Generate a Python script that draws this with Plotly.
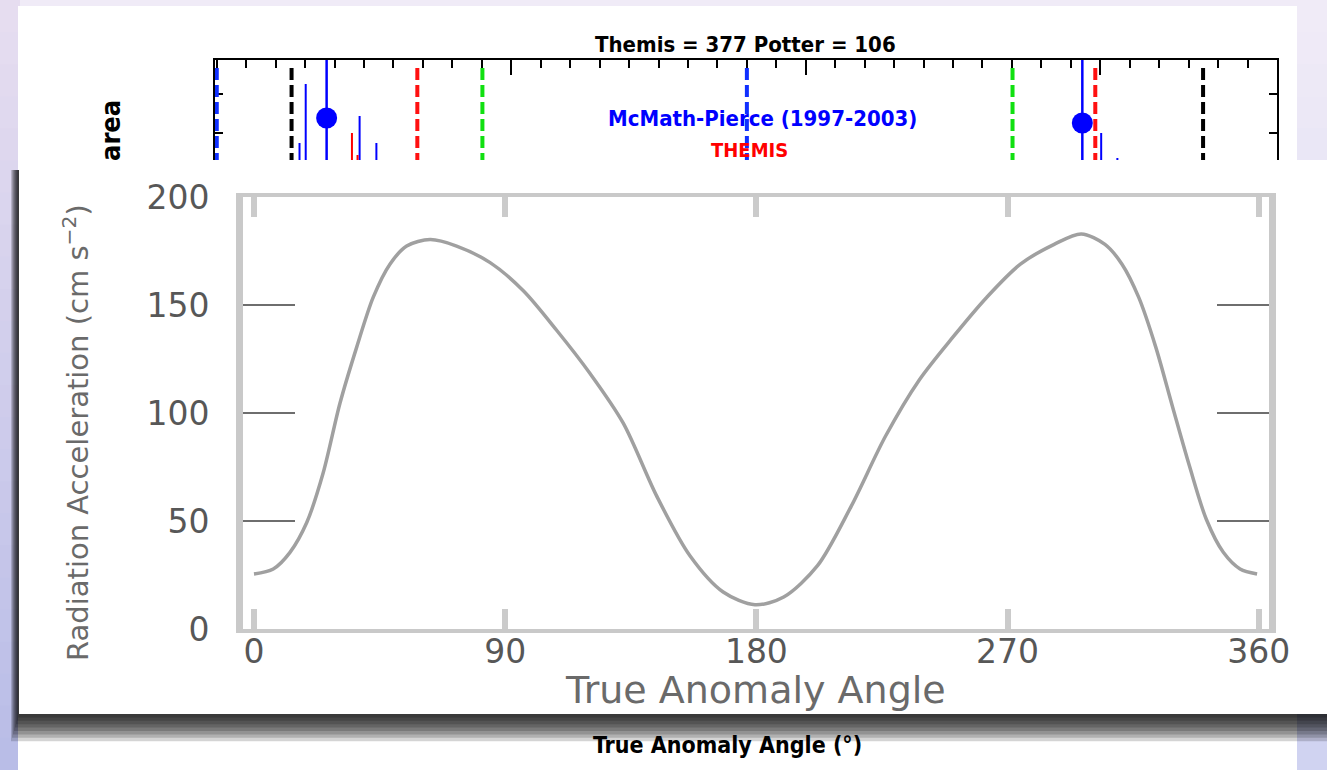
import plotly.graph_objects as go

W, H = 1327, 770

# ---------------- inner chart: radiation acceleration vs true anomaly ----------------
anomaly_deg = [0, 6.9, 12.9, 18.9, 24.8, 30.8, 36.8, 42.7, 48.7, 54.7, 63.1, 72.6,
               84.6, 96.5, 108.5, 120.4, 132.3, 144.3, 156.2, 168.1, 179.5, 189.8,
               201.9, 214.0, 226.2, 238.3, 250.4, 262.5, 274.6, 286.7, 296.4, 304.9,
               311.0, 317.0, 323.1, 329.1, 335.2, 341.2, 347.3, 353.3, 359.4]
radiation_accel = [25.5, 27.8, 35.5, 49.3, 72.3, 104.5, 130.5, 153.5, 168.9, 177.3,
                   180.3, 177.3, 169.6, 156.6, 138.2, 118.3, 95.3, 61.5, 33.9, 17.1,
                   11.2, 14.8, 29.3, 56.9, 89.1, 115.2, 135.1, 153.5, 168.9, 178.1,
                   182.9, 178.1, 168.9, 153.5, 130.5, 102.9, 75.3, 50.8, 35.5, 27.8, 25.5]
x_ticks = [0, 90, 180, 270, 360]
y_ticks = [0, 50, 100, 150, 200]
y_inner_ticks = [50, 100, 150]

# ---------------- background chart (partly hidden) ----------------
blue_dash_x = [0, 180]
black_dash_x = [25.4, 334.9]
red_dash_x = [68.1, 298.3]
green_dash_x = [90.2, 270.2]
dash_top = 92
blue_solid_x = [37.3, 293.9]
blue_dot_y = [42, 37]
blue_bar_x = [28.1, 30.2, 48.5, 54.2, 300.3, 305.8]
blue_bar_top = [17, 76, 44, 17, 27, 2]
red_bar_x = [45.9, 47.8]
red_bar_top = [27, 5]
bg_y_ticks = [27, 66]


def vlines(xs, tops, bottom=-5):
    xx, yy = [], []
    for x, t in zip(xs, tops):
        xx += [x, x, None]
        yy += [bottom, t, None]
    return xx, yy


def px_x(p):
    return p / W


def px_y(p):
    return 1 - p / H


fig = go.Figure()

fig.add_trace(go.Scatter(
    x=anomaly_deg, y=radiation_accel, mode="lines",
    line=dict(color="#a0a0a0", width=3.5, shape="spline", smoothing=0.85),
    xaxis="x", yaxis="y", showlegend=False, hoverinfo="skip"))

dash_pat = "12px,5px"
for xs, col in [(blue_dash_x, "#1030ff"), (black_dash_x, "#000000"),
                (red_dash_x, "#ff1010"), (green_dash_x, "#10e010")]:
    xx, yy = vlines(xs, [dash_top] * len(xs))
    fig.add_trace(go.Scatter(x=xx, y=yy, mode="lines",
                             line=dict(color=col, width=4, dash=dash_pat),
                             xaxis="x2", yaxis="y2", showlegend=False, hoverinfo="skip"))

xx, yy = vlines(blue_bar_x, blue_bar_top)
fig.add_trace(go.Scatter(x=xx, y=yy, mode="lines", line=dict(color="#0000ff", width=2),
                         xaxis="x2", yaxis="y2", showlegend=False, hoverinfo="skip"))
xx, yy = vlines(red_bar_x, red_bar_top)
fig.add_trace(go.Scatter(x=xx, y=yy, mode="lines", line=dict(color="#ff0000", width=2),
                         xaxis="x2", yaxis="y2", showlegend=False, hoverinfo="skip"))
xx, yy = vlines(blue_solid_x, [110] * len(blue_solid_x))
fig.add_trace(go.Scatter(x=xx, y=yy, mode="lines", line=dict(color="#0000ff", width=2.5),
                         xaxis="x2", yaxis="y2", showlegend=False, hoverinfo="skip"))
fig.add_trace(go.Scatter(x=blue_solid_x, y=blue_dot_y, mode="markers",
                         marker=dict(color="#0000ff", size=21),
                         xaxis="x2", yaxis="y2", showlegend=False, hoverinfo="skip"))

# ---------------- decorative shapes ----------------
shapes = []


def lerp(c1, c2, t):
    a = [int(c1[i:i + 2], 16) for i in (1, 3, 5)]
    b = [int(c2[i:i + 2], 16) for i in (1, 3, 5)]
    return "#" + "".join("%02x" % round(a[k] + (b[k] - a[k]) * t) for k in range(3))


N = 24
for i in range(N):
    y0, y1 = H * i / N, H * (i + 1) / N + 1
    t = i / (N - 1)
    shapes.append(dict(type="rect", xref="paper", yref="paper", layer="below",
                       x0=0, x1=px_x(20), y0=px_y(y1), y1=px_y(y0),
                       fillcolor=lerp("#e6ddf0", "#b9bde7", t), line_width=0))
    shapes.append(dict(type="rect", xref="paper", yref="paper", layer="below",
                       x0=px_x(20), x1=1, y0=px_y(y1), y1=px_y(y0),
                       fillcolor=lerp("#f0ebf7", "#d0d3f1", t), line_width=0))

# white background panel
shapes.append(dict(type="rect", xref="paper", yref="paper", layer="below",
                   x0=px_x(18), x1=px_x(1297), y0=0, y1=px_y(6),
                   fillcolor="white", line_width=0))
# drop shadow of the inner panel
for k in range(1, 9):
    shapes.append(dict(type="rect", xref="paper", yref="paper", layer="below",
                       x0=px_x(19 - 1.0 * k), x1=1.01, y0=px_y(714 + 3.4 * k), y1=px_y(170),
                       fillcolor="black", opacity=0.17, line_width=0))
# inner white panel
shapes.append(dict(type="rect", xref="paper", yref="paper", layer="below",
                   x0=px_x(19), x1=1.01, y0=px_y(714), y1=px_y(160),
                   fillcolor="white", line_width=0))

bold_font = "Liberation Sans Narrow, DejaVu Sans Condensed, Arial Narrow, sans-serif"
inner_font = "DejaVu Sans, Verdana, sans-serif"


def note(text, x, y, size, color, family, angle=0, xref="paper", yref="paper"):
    if xref == "paper":
        x = px_x(x)
    if yref == "paper":
        y = px_y(y)
    return dict(text=text, xref=xref, yref=yref, x=x, y=y, textangle=angle,
                xanchor="center", yanchor="middle", showarrow=False,
                font=dict(family=family, size=size, color=color))


annotations = [
    note("<b>Themis = 377 Potter = 106</b>", 745, 45, 22, "black", bold_font),
    note("<b>McMath-Pierce (1997-2003)</b>", 185.4, 42, 22, "#0000ff", bold_font, xref="x2", yref="y2"),
    note("<b>THEMIS</b>", 181, 10, 20, "#ff0000", bold_font, xref="x2", yref="y2"),
    note("<b>area</b>", 110, 131, 27, "black", bold_font, angle=-90),
    note("<b>True Anomaly Angle (°)</b>", 727, 745, 23, "black", bold_font),
    note("Radiation Acceleration (cm s<sup>−2</sup>)", 76, 433, 29, "#6a6a6a", inner_font, angle=-90),
    note("True Anomaly Angle", 755, 690, 38, "#6a6a6a", inner_font),
]

fig.update_layout(
    template="none",
    width=W, height=H, margin=dict(l=0, r=0, t=0, b=0, pad=0), autosize=False,
    paper_bgcolor="#ebe5f3", plot_bgcolor="rgba(0,0,0,0)",
    showlegend=False, shapes=shapes, annotations=annotations,
    xaxis=dict(domain=[px_x(243), px_x(1269)], range=[-3.94, 363.67], anchor="y",
               automargin=False,
               showline=True, linecolor="#c9c9c9", linewidth=4, mirror="ticks",
               tickmode="array", tickvals=x_ticks, ticktext=[str(v) for v in x_ticks],
               ticks="inside", ticklen=20, tickwidth=6, tickcolor="#cbcbcb",
               showgrid=False, zeroline=False, ticklabelstandoff=-10,
               tickfont=dict(family=inner_font, size=33, color="#575757")),
    yaxis=dict(domain=[px_y(629), px_y(197)], range=[0, 200], anchor="x",
               automargin=False,
               showline=True, linecolor="#c9c9c9", linewidth=7, mirror="ticks",
               tickmode="array", tickvals=y_ticks, ticktext=[str(v) for v in y_ticks],
               ticks="",
               minor=dict(tickmode="array", tickvals=y_inner_ticks, ticks="inside",
                          ticklen=52, tickwidth=2, tickcolor="#6e6e6e"),
               showgrid=False, zeroline=False, ticklabelstandoff=20,
               tickfont=dict(family=inner_font, size=33, color="#575757")),
    xaxis2=dict(domain=[px_x(215), px_x(1277)], range=[-0.6, 360], anchor="y2", side="top",
                automargin=False,
                showline=True, linecolor="black", linewidth=2, mirror=False,
                tick0=0, dtick=100, ticks="inside", ticklen=15, tickwidth=2, tickcolor="black",
                minor=dict(dtick=10, ticks="inside", ticklen=8, tickwidth=2, tickcolor="black"),
                showticklabels=False, showgrid=False, zeroline=False, layer="below traces"),
    yaxis2=dict(domain=[px_y(160), px_y(60)], range=[0, 100], anchor="x2",
                automargin=False,
                showline=True, linecolor="black", linewidth=2, mirror="ticks",
                tickmode="array", tickvals=bg_y_ticks, ticks="inside", ticklen=8,
                tickwidth=2, tickcolor="black", showticklabels=False,
                showgrid=False, zeroline=False, layer="below traces"),
)

fig.write_html(
    "out.html",
    config={"displayModeBar": False},
    post_script="document.body.style.margin='0';document.body.style.background='#ebe5f3';",
)
